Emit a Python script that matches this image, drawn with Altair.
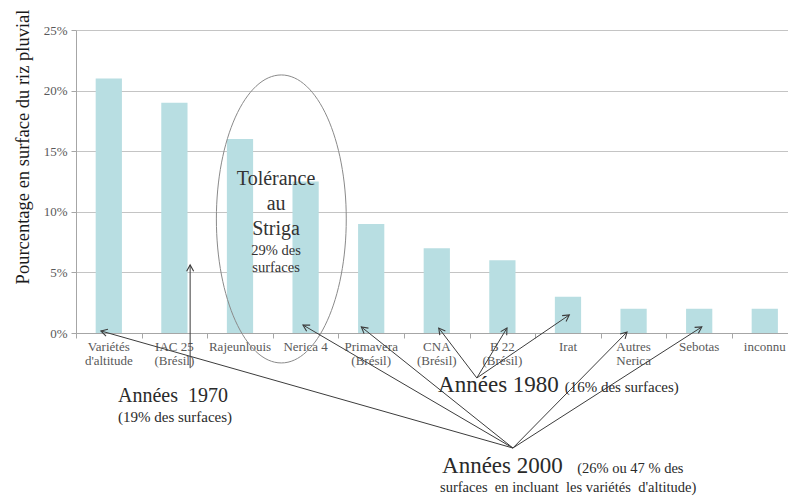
import math
import altair as alt
import pandas as pd

# Upland rice varieties and their share of the cultivated area (%)
varieties = ["Variétés\nd'altitude", "IAC 25\n(Brésil)", "Rajeunlouis", "Nerica 4",
             "Primavera\n(Brésil)", "CNA\n(Brésil)", "B 22\n(Brésil)", "Irat",
             "Autres\nNerica", "Sebotas", "inconnu"]
shares = [21, 19, 16, 12.5, 9, 7, 6, 3, 2, 2, 2]
y_ticks = [0, 5, 10, 15, 20, 25]

# Arrow hubs (category index, %) and the points each one designates
hubs = {
    "1970": (1.24, -2.9),
    "1980": (5.61, -3.71),
    "2000": (6.16, -9.49),
}
hub_targets = {
    "1970": [(1.24, 5.61)],
    "1980": [(5.03, 0.41), (6.07, 0.41), (7.02, 1.49)],
    "2000": [(-0.12, 0.17), (2.96, 0.66), (3.85, 0.5), (7.9, 0.08), (9.04, 0.5)],
}

NB = "\u00a0"  # keeps the wide word spacing of the notes

# Annotation texts: (text, x, y, font size)
left_notes = [
    (f"Années{NB} 1970", 0.14, -5.69, 20),
    ("(19% des surfaces)", 0.14, -7.34, 15),
    ("Années 1980", 5.02, -4.87, 23),
    ("(16% des surfaces)", 6.95, -4.87, 15),
    ("Années 2000", 5.08, -11.55, 23),
    ("(26% ou 47 % des", 7.14, -11.55, 14.5),
    (f"surfaces{NB} en incluant{NB} les variétés{NB} d'altitude)", 5.05, -13.12, 14.5),
]
center_notes = [
    ("Tolérance", 2.55, 12.21, 20),
    ("au", 2.55, 10.15, 20),
    ("Striga", 2.55, 8.09, 20),
    ("29% des", 2.55, 6.44, 14.5),
    ("surfaces", 2.55, 5.03, 14.5),
]
striga_group = (2.63, 9.41)

W, H = 712, 303
X_DOMAIN = [-0.5, 10.354]
Y_DOMAIN = [0, 25]
px_x = W / (X_DOMAIN[1] - X_DOMAIN[0])
px_y = H / (Y_DOMAIN[1] - Y_DOMAIN[0])

SERIF = "Liberation Serif"
GREY = "#595959"
INK = "#2a2a2a"

idx = list(range(len(varieties)))
bar_df = pd.DataFrame({
    "idx": idx,
    "x0": [i - 0.2 for i in idx],
    "x1": [i + 0.2 for i in idx],
    "share": shares,
    "base": [0] * len(idx),
    "label": varieties,
})

rows = []
for name, (hx, hy) in hubs.items():
    for tx, ty in hub_targets[name]:
        ang = math.degrees(math.atan2((tx - hx) * px_x, (ty - hy) * px_y))
        rows.append({"hub": name, "xs": hx, "ys": hy, "xt": tx, "yt": ty,
                     "angle": (ang + 360) % 360})
arrow_df = pd.DataFrame(rows)

left_df = pd.DataFrame(left_notes, columns=["text", "x", "y", "fs"])
center_df = pd.DataFrame(center_notes, columns=["text", "x", "y", "fs"])
ellipse_df = pd.DataFrame([{"x": striga_group[0], "y": striga_group[1]}])

xs = alt.Scale(domain=X_DOMAIN, nice=False, zero=False)
ys = alt.Scale(domain=Y_DOMAIN, nice=False, zero=False)

x_axis = alt.Axis(values=[i - 0.5 for i in idx], labels=False, grid=False,
                  tickSize=5, tickColor="#a6a6a6", domainColor="#a6a6a6")
y_axis = alt.Axis(values=y_ticks, labelExpr="datum.value + '%'", grid=True,
                  gridColor="#c4c4c4", gridWidth=1, tickSize=5, tickColor="#a6a6a6",
                  domainColor="#a6a6a6", labelFont=SERIF, labelFontSize=13,
                  labelColor=GREY, labelPadding=4,
                  titleFont=SERIF, titleFontSize=18.5, titleFontWeight="normal",
                  titleColor="#1a1a1a", titleX=-48, titleY=116.5, titleAngle=270,
                  titleAlign="center", titleBaseline="alphabetic")
Y_TITLE = "Pourcentage en surface du riz pluvial"


def xq(field):
    return alt.X(field, type="quantitative", scale=xs, title=None)


def yq(field):
    return alt.Y(field, type="quantitative", scale=ys, title=Y_TITLE)


bars = alt.Chart(bar_df).mark_bar(color="#b8dee2").encode(
    x=alt.X("x0:Q", scale=xs, axis=x_axis, title=None),
    x2="x1:Q",
    y=alt.Y("share:Q", scale=ys, axis=y_axis, title=Y_TITLE),
    y2="base:Q",
)

labels = alt.Chart(bar_df).mark_text(
    baseline="top", align="center", dy=8, lineBreak="\n", lineHeight=14,
    font=SERIF, fontSize=13, color=GREY,
).encode(x=xq("idx"), y=yq("base"), text="label:N")

ellipse = alt.Chart(ellipse_df).mark_point(
    shape="M -0.451 0 A 0.451 1 0 1 1 0.451 0 A 0.451 1 0 1 1 -0.451 0 Z",
    size=82944, filled=False, color="#8a8a8a", strokeWidth=1, opacity=1,
).encode(x=xq("x"), y=yq("y"))

lines = alt.Chart(arrow_df).mark_rule(color="#3c3c3c", strokeWidth=1).encode(
    x=xq("xs"), y=yq("ys"), x2="xt:Q", y2="yt:Q",
)

heads = alt.Chart(arrow_df).mark_point(
    shape="M -0.5 0.9 L 0 0 L 0.5 0.9", size=196, filled=False,
    color="#3c3c3c", strokeWidth=1.1, opacity=1,
).encode(
    x=xq("xt"), y=yq("yt"),
    angle=alt.Angle("angle:Q", scale=None),
)

left_text = alt.Chart(left_df).mark_text(
    align="left", baseline="alphabetic", font=SERIF, color=INK,
).encode(
    x=xq("x"), y=yq("y"), text="text:N",
    size=alt.Size("fs:Q", scale=None, legend=None),
)

center_text = alt.Chart(center_df).mark_text(
    align="center", baseline="alphabetic", font=SERIF, color="#333333",
).encode(
    x=xq("x"), y=yq("y"), text="text:N",
    size=alt.Size("fs:Q", scale=None, legend=None),
)

chart = alt.layer(
    bars, labels, ellipse, lines, heads, left_text, center_text
).properties(
    width=W, height=H,
    background="white",
    autosize=alt.AutoSizeParams(type="none"),
    padding={"left": 76, "top": 30, "right": 0, "bottom": 168},
).configure_view(stroke=None)

chart.save("out.html", embed_options={"renderer": "svg", "actions": False})
